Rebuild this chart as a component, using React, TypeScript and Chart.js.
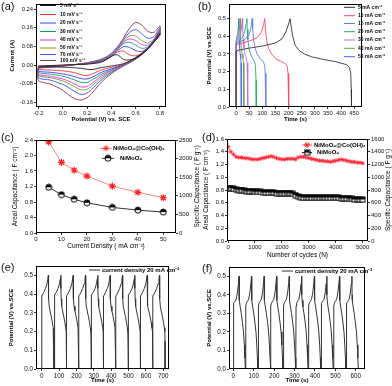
import { useEffect, useRef } from "react";
import { Chart, registerables } from "chart.js";

Chart.register(...registerables);

const SANS = "'Liberation Sans', Arial, Helvetica, sans-serif";

// ---------------- (a) cyclic voltammetry ----------------
const CV_POTENTIAL = [-0.2, -0.1, 0, 0.1, 0.2, 0.3, 0.35, 0.4, 0.45, 0.5, 0.55, 0.6, 0.65, 0.7, 0.75, 0.8,
  0.8, 0.75, 0.7, 0.65, 0.6, 0.55, 0.5, 0.45, 0.4, 0.35, 0.3, 0.25, 0.2, 0.15, 0.1, 0.05, 0, -0.1, -0.2];
const CV_LABELS = ["5 mV s⁻¹", "10 mV s⁻¹", "20 mV s⁻¹", "30 mV s⁻¹", "40 mV s⁻¹", "50 mV s⁻¹", "70 mV s⁻¹", "100 mV s⁻¹"];
const CV_5 = [-0.004, -0.002, 0.0, 0.002, 0.004, 0.01, 0.02, 0.038, 0.044, 0.024, 0.022, 0.03, 0.045, 0.068, 0.098, 0.135,
  0.128, 0.098, 0.072, 0.05, 0.032, 0.017, 0.006, 0.0, -0.004, -0.008, -0.013, -0.019, -0.018, -0.014, -0.012, -0.01, -0.009, -0.008, -0.007];
const CV_10 = [-0.006, -0.003, -0.001, 0.002, 0.005, 0.012, 0.021, 0.036, 0.056, 0.06, 0.044, 0.04, 0.05, 0.07, 0.1, 0.138,
  0.13, 0.098, 0.071, 0.049, 0.031, 0.016, 0.004, -0.004, -0.01, -0.016, -0.025, -0.037, -0.045, -0.041, -0.033, -0.028, -0.025, -0.021, -0.018];
const CV_20 = [-0.008, -0.004, -0.002, 0.002, 0.006, 0.014, 0.023, 0.037, 0.06, 0.079, 0.076, 0.062, 0.058, 0.074, 0.104, 0.142,
  0.133, 0.099, 0.071, 0.049, 0.03, 0.015, 0.002, -0.008, -0.016, -0.025, -0.036, -0.05, -0.06, -0.058, -0.05, -0.043, -0.038, -0.031, -0.026];
const CV_30 = [-0.009, -0.005, -0.002, 0.002, 0.007, 0.016, 0.025, 0.04, 0.065, 0.092, 0.098, 0.086, 0.072, 0.078, 0.106, 0.146,
  0.136, 0.1, 0.071, 0.048, 0.029, 0.014, 0.001, -0.01, -0.02, -0.032, -0.045, -0.062, -0.075, -0.074, -0.064, -0.055, -0.048, -0.039, -0.032];
const CV_40 = [-0.01, -0.006, -0.003, 0.002, 0.007, 0.017, 0.026, 0.042, 0.068, 0.098, 0.112, 0.105, 0.088, 0.085, 0.108, 0.15,
  0.139, 0.101, 0.071, 0.048, 0.028, 0.013, 0.0, -0.012, -0.024, -0.038, -0.054, -0.075, -0.092, -0.094, -0.082, -0.069, -0.06, -0.048, -0.04];
const CV_50 = [-0.011, -0.007, -0.003, 0.002, 0.008, 0.018, 0.028, 0.044, 0.07, 0.102, 0.125, 0.125, 0.105, 0.095, 0.112, 0.155,
  0.142, 0.102, 0.071, 0.047, 0.027, 0.012, -0.001, -0.014, -0.028, -0.044, -0.062, -0.085, -0.104, -0.106, -0.094, -0.08, -0.068, -0.054, -0.045];
const CV_70 = [-0.012, -0.008, -0.004, 0.002, 0.009, 0.02, 0.03, 0.047, 0.074, 0.108, 0.14, 0.152, 0.135, 0.115, 0.122, 0.16,
  0.146, 0.104, 0.071, 0.046, 0.026, 0.011, -0.002, -0.016, -0.032, -0.05, -0.072, -0.098, -0.12, -0.126, -0.114, -0.097, -0.083, -0.065, -0.054];
const CV_100 = [-0.013, -0.009, -0.005, 0.002, 0.01, 0.022, 0.033, 0.05, 0.078, 0.115, 0.158, 0.183, 0.172, 0.145, 0.14, 0.168,
  0.152, 0.106, 0.071, 0.045, 0.025, 0.01, -0.004, -0.019, -0.037, -0.058, -0.084, -0.115, -0.14, -0.15, -0.145, -0.128, -0.108, -0.082, -0.066];
const CV_X_TICKS = [-0.2, 0, 0.2, 0.4, 0.6, 0.8];
const CV_Y_TICKS = [-0.16, -0.08, 0, 0.08, 0.16, 0.24];

// ---------------- (b) charge/discharge at several current densities ----------------
const GCD_LABELS = ["5 mA cm⁻²", "10 mA cm⁻²", "15 mA cm⁻²", "20 mA cm⁻²", "30 mA cm⁻²", "40 mA cm⁻²", "50 mA cm⁻²"];
const GCD_5: number[][] = [[0, 0], [0, 0.316], [10, 0.322], [50, 0.333], [100, 0.345], [150, 0.362], [175, 0.385], [190, 0.425], [200, 0.47], [206, 0.5],
  [210, 0.455], [216, 0.4], [225, 0.35], [240, 0.32], [260, 0.3], [290, 0.283], [330, 0.27], [380, 0.256], [420, 0.24], [432, 0.225], [437, 0.19], [439, 0.1], [440, 0]];
const GCD_10: number[][] = [[0, 0], [0, 0.352], [20, 0.36], [50, 0.373], [80, 0.392], [95, 0.42], [104, 0.46], [109, 0.5], [112, 0.44], [117, 0.375],
  [124, 0.33], [135, 0.3], [150, 0.275], [170, 0.258], [188, 0.245], [195, 0.23], [198, 0.19], [200, 0.1], [201, 0]];
const GCD_15: number[][] = [[0, 0], [0, 0.358], [15, 0.368], [35, 0.385], [50, 0.41], [57, 0.45], [61, 0.5], [63, 0.44], [67, 0.38], [72, 0.335],
  [80, 0.3], [92, 0.275], [104, 0.255], [109, 0.235], [111, 0.19], [113, 0.1], [114, 0]];
const GCD_20: number[][] = [[0, 0], [0, 0.362], [12, 0.375], [25, 0.395], [33, 0.43], [38, 0.47], [41, 0.5], [42.5, 0.44], [45, 0.38], [49, 0.335],
  [55, 0.3], [63, 0.275], [71, 0.255], [74, 0.23], [76, 0.15], [77, 0]];
const GCD_30: number[][] = [[0, 0], [0, 0.37], [8, 0.38], [15, 0.4], [20, 0.44], [24, 0.5], [25, 0.44], [27, 0.38], [30, 0.335], [34, 0.3],
  [39, 0.275], [42, 0.25], [44, 0.19], [45, 0]];
const GCD_40: number[][] = [[0, 0], [0, 0.375], [5, 0.385], [10, 0.41], [13, 0.45], [15, 0.5], [16, 0.44], [18, 0.38], [20, 0.335], [23, 0.3],
  [26, 0.275], [28.5, 0.25], [29.5, 0.18], [30, 0]];
const GCD_50: number[][] = [[0, 0], [0, 0.38], [3, 0.39], [6, 0.41], [8.5, 0.45], [10, 0.5], [10.8, 0.44], [12, 0.38], [13.5, 0.335], [15.5, 0.3],
  [17.5, 0.275], [19, 0.25], [19.7, 0.18], [20, 0]];
const GCD_X_TICKS = [0, 50, 100, 150, 200, 250, 300, 350, 400, 450];
const GCD_Y_TICKS = [0, 0.1, 0.2, 0.3, 0.4, 0.5];

// ---------------- (c) rate capability ----------------
const CURRENT_DENSITY = [5, 10, 15, 20, 30, 40, 50];
const AREAL_COMPOSITE = [2.35, 1.82, 1.62, 1.47, 1.21, 1.05, 0.91];
const AREAL_NIMOO4 = [1.18, 0.99, 0.87, 0.78, 0.66, 0.59, 0.54];
const C_X_TICKS = [0, 10, 20, 30, 40, 50];
const C_Y_TICKS = [0, 0.4, 0.8, 1.2, 1.6, 2.0, 2.4];
const C_Y2_TICKS = [0, 500, 1000, 1500, 2000, 2500];

// ---------------- (d) cycling stability ----------------
const CYCLES = [0, 100, 200, 300, 400, 500, 600, 700, 800, 900, 1000, 1100, 1200, 1300, 1400, 1500, 1600, 1700, 1800, 1900, 2000,
  2100, 2200, 2300, 2400, 2500, 2600, 2700, 2800, 2900, 3000, 3100, 3200, 3300, 3400, 3500, 3600, 3700, 3800, 3900, 4000,
  4100, 4200, 4300, 4400, 4500, 4600, 4700, 4800, 4900, 5000];
const CYCLE_COMPOSITE = [1.48, 1.4, 1.36, 1.32, 1.31, 1.31, 1.3, 1.3, 1.29, 1.28, 1.28, 1.28, 1.29, 1.3, 1.31, 1.32, 1.33, 1.32, 1.3, 1.29, 1.28,
  1.28, 1.29, 1.29, 1.29, 1.28, 1.31, 1.32, 1.32, 1.31, 1.3, 1.29, 1.28, 1.27, 1.26, 1.26, 1.25, 1.25, 1.24, 1.25, 1.26,
  1.27, 1.28, 1.27, 1.26, 1.25, 1.24, 1.24, 1.23, 1.23, 1.22];
const CYCLE_NIMOO4 = [0.83, 0.83, 0.82, 0.81, 0.8, 0.8, 0.79, 0.78, 0.78, 0.78, 0.77, 0.77, 0.77, 0.76, 0.76, 0.76, 0.76, 0.76, 0.75, 0.75, 0.75,
  0.75, 0.75, 0.75, 0.74, 0.72, 0.7, 0.69, 0.68, 0.68, 0.68, 0.68, 0.68, 0.68, 0.68, 0.68, 0.68, 0.68, 0.68, 0.68, 0.68,
  0.68, 0.67, 0.67, 0.67, 0.66, 0.66, 0.65, 0.65, 0.65, 0.65];
const D_X_TICKS = [0, 1000, 2000, 3000, 4000, 5000];
const D_Y_TICKS = [0, 0.2, 0.4, 0.6, 0.8, 1.0, 1.2, 1.4, 1.6];
const D_Y2_TICKS = [0, 200, 400, 600, 800, 1000, 1200, 1400, 1600];

// ---------------- (e) / (f) repeated cycles at 20 mA cm-2 ----------------
const E_CYCLE_TIME = [0, 0.3, 4, 12, 22, 30, 35, 38, 38.7, 40, 43, 48, 55, 61, 66, 69, 70, 70.5];
const E_CYCLE_V = [0, 0.39, 0.395, 0.41, 0.43, 0.455, 0.48, 0.5, 0.43, 0.375, 0.335, 0.31, 0.28, 0.25, 0.22, 0.2, 0.15, 0];
const E_CYCLE_STARTS = [0, 72, 143, 214, 285, 356, 427, 498, 569, 640];
const E_X_TICKS = [0, 100, 200, 300, 400, 500, 600, 700];
const F_CYCLE_TIME = [0, 0.3, 3, 8, 14, 20, 25, 28, 28.7, 30, 34, 39, 45, 50, 54, 57, 59];
const F_CYCLE_V = [0, 0.34, 0.355, 0.365, 0.375, 0.41, 0.46, 0.5, 0.4, 0.37, 0.335, 0.3, 0.25, 0.2, 0.13, 0.06, 0];
const F_CYCLE_STARTS = [0, 61, 123, 184, 246, 307, 369, 430, 492, 553];
const F_X_TICKS = [0, 100, 200, 300, 400, 500, 600];
const EF_Y_TICKS = [0, 0.1, 0.2, 0.3, 0.4, 0.5];
const EF_LABEL = "current density 20 mA cm⁻²";

// ---------------- helpers ----------------
type Box = { x: number; y: number; w: number; h: number };
type Plot = { l: number; t: number; r: number; b: number };

function padFor(box: Box, p: Plot, yW: number, xH: number, rW = 0) {
  return {
    padding: {
      left: p.l - box.x - yW,
      top: p.t - box.y,
      right: box.x + box.w - p.r - rW,
      bottom: box.y + box.h - p.b - xH,
    },
  };
}

function scale(o: {
  position: string; min: number; max: number; ticks: number[]; fmt: (v: number) => string;
  title: string; size: number; tickFont: any; titleFont: any; showTitle?: boolean;
}) {
  const horiz = o.position === "bottom" || o.position === "top";
  return {
    type: "linear",
    position: o.position,
    display: true,
    min: o.min,
    max: o.max,
    afterBuildTicks: (s: any) => { s.ticks = o.ticks.map((v) => ({ value: v })); },
    afterFit: (s: any) => { if (horiz) s.height = o.size; else s.width = o.size; },
    grid: { display: true, drawOnChartArea: false, drawTicks: true, tickLength: 2, color: "#000", lineWidth: 0.8 },
    border: { display: false },
    ticks: { callback: (v: any) => o.fmt(Number(v)), font: o.tickFont, color: "#111", padding: 1, maxRotation: 0, autoSkip: false },
    title: { display: o.showTitle !== false, text: o.title, font: o.titleFont, color: "#000", padding: { top: 1, bottom: 1 } },
  };
}

const framePlugin = {
  id: "frame",
  afterDraw(chart: any) {
    const { ctx, chartArea: a } = chart;
    ctx.save();
    ctx.strokeStyle = "#000";
    ctx.lineWidth = 1;
    ctx.strokeRect(Math.round(a.left) + 0.5, Math.round(a.top) + 0.5, Math.round(a.right - a.left) - 1, Math.round(a.bottom - a.top) - 1);
    ctx.restore();
  },
};

// right-hand axis title, reading upward like the left one
function rightTitlePlugin(text: string, dx: number, font: string) {
  return {
    id: "rightTitle",
    afterDraw(chart: any) {
      const { ctx, chartArea: a } = chart;
      ctx.save();
      ctx.translate(a.right + dx, (a.top + a.bottom) / 2);
      ctx.rotate(-Math.PI / 2);
      ctx.font = font;
      ctx.fillStyle = "#000";
      ctx.textAlign = "center";
      ctx.textBaseline = "middle";
      ctx.fillText(text, 0, 0);
      ctx.restore();
    },
  };
}

function drawMarker(ctx: CanvasRenderingContext2D, kind: string, x: number, y: number, color: string) {
  ctx.save();
  if (kind === "star") {
    const r = 3;
    ctx.strokeStyle = color;
    ctx.lineWidth = 1;
    ctx.beginPath();
    for (let k = 0; k < 4; k++) {
      const ang = (k * Math.PI) / 4;
      ctx.moveTo(x - r * Math.cos(ang), y - r * Math.sin(ang));
      ctx.lineTo(x + r * Math.cos(ang), y + r * Math.sin(ang));
    }
    ctx.stroke();
  } else if (kind === "halfcircle") {
    ctx.drawImage(halfCircle(3), x - 4, y - 4);
  } else if (kind === "halfsquare") {
    ctx.drawImage(halfSquare(2.5), x - 3.5, y - 3.5);
  }
  ctx.restore();
}

let hcCache: HTMLCanvasElement | null = null;
function halfCircle(r: number) {
  if (hcCache) return hcCache;
  const c = document.createElement("canvas");
  c.width = 8; c.height = 8;
  const g = c.getContext("2d")!;
  g.fillStyle = "#fff"; g.beginPath(); g.arc(4, 4, r, 0, Math.PI * 2); g.fill();
  g.fillStyle = "#111"; g.beginPath(); g.arc(4, 4, r, Math.PI, 0); g.closePath(); g.fill();
  g.strokeStyle = "#000"; g.lineWidth = 1; g.beginPath(); g.arc(4, 4, r, 0, Math.PI * 2); g.stroke();
  hcCache = c;
  return c;
}
let hsCache: HTMLCanvasElement | null = null;
function halfSquare(r: number) {
  if (hsCache) return hsCache;
  const c = document.createElement("canvas");
  c.width = 7; c.height = 7;
  const g = c.getContext("2d")!;
  g.fillStyle = "#fff"; g.fillRect(3.5 - r, 3.5 - r, 2 * r, 2 * r);
  g.fillStyle = "#111"; g.fillRect(3.5 - r, 3.5 - r, 2 * r, r);
  g.strokeStyle = "#000"; g.lineWidth = 1; g.strokeRect(3.5 - r, 3.5 - r, 2 * r, 2 * r);
  hsCache = c;
  return c;
}

type LegItem = { y: number; x1: number; x2: number; tx: number; color: string; text: string; marker?: string; mx?: number; mcolor?: string };
function legendPlugin(items: LegItem[], font: string) {
  return {
    id: "customLegend",
    afterDraw(chart: any) {
      const ctx: CanvasRenderingContext2D = chart.ctx;
      ctx.save();
      ctx.font = font;
      ctx.textBaseline = "middle";
      for (const it of items) {
        ctx.strokeStyle = it.color;
        ctx.lineWidth = 1;
        ctx.beginPath();
        ctx.moveTo(it.x1, it.y);
        ctx.lineTo(it.x2, it.y);
        ctx.stroke();
        if (it.marker) drawMarker(ctx, it.marker, it.mx ?? (it.x1 + it.x2) / 2, it.y, it.mcolor ?? it.color);
        ctx.fillStyle = "#000";
        ctx.fillText(it.text, it.tx, it.y);
      }
      ctx.restore();
    },
  };
}

function baseOptions(box: Box, plot: Plot, yW: number, xH: number, rW: number, scales: any) {
  return {
    responsive: false,
    maintainAspectRatio: false,
    animation: false,
    devicePixelRatio: 1,
    events: [],
    layout: padFor(box, plot, yW, xH, rW),
    plugins: { legend: { display: false }, tooltip: { enabled: false }, title: { display: false } },
    scales,
  };
}

const f1 = (v: number) => v.toFixed(1);
const f2 = (v: number) => v.toFixed(2);
const f0 = (v: number) => String(Math.round(v));

// ---------------- panel configs ----------------
const BOX_A: Box = { x: 0, y: 0, w: 196, h: 130 };
const PLOT_A: Plot = { l: 36, t: 2, r: 166, b: 107 };
function buildA() {
  const series = [CV_5, CV_10, CV_20, CV_30, CV_40, CV_50, CV_70, CV_100];
  const colors = ["#222222", "#ff3333", "#3a3aff", "#119977", "#dd33dd", "#779933", "#3050dd", "#8a3355"];
  const tickFont = { family: SANS, size: 5.8 };
  const titleFont = { family: SANS, size: 6, weight: "bold" };
  const legY = [5.5, 14.5, 23, 31.5, 40, 48, 54.5, 60.5];
  return {
    type: "scatter",
    data: {
      datasets: series.map((ys, k) => {
        const pts = CV_POTENTIAL.map((x, i) => ({ x, y: ys[i] }));
        pts.push(pts[0]);
        return { label: CV_LABELS[k], data: pts, showLine: true, borderColor: colors[k], borderWidth: 0.9, pointRadius: 0, tension: 0.3, fill: false };
      }),
    },
    options: baseOptions(BOX_A, PLOT_A, 28, 17, 0, {
      x: scale({ position: "bottom", min: -0.22, max: 0.85, ticks: CV_X_TICKS, fmt: f1, title: "Potential (V) vs. SCE", size: 17, tickFont, titleFont }),
      y: scale({ position: "left", min: -0.18, max: 0.26, ticks: CV_Y_TICKS, fmt: f2, title: "Current (A)", size: 28, tickFont, titleFont }),
    }),
    plugins: [framePlugin, legendPlugin(CV_LABELS.map((t, k) => ({ y: legY[k], x1: 40, x2: 56, tx: 60, color: colors[k], text: t })), `bold 5px ${SANS}`)],
  };
}

const BOX_B: Box = { x: 196, y: 0, w: 196, h: 130 };
const PLOT_B: Plot = { l: 229, t: 2, r: 362, b: 107 };
function buildB() {
  const series = [GCD_5, GCD_10, GCD_15, GCD_20, GCD_30, GCD_40, GCD_50];
  const colors = ["#333333", "#ff4466", "#6677ff", "#22aa77", "#cc66ee", "#66aa33", "#4466ff"];
  const tickFont = { family: SANS, size: 5.8 };
  const titleFont = { family: SANS, size: 6, weight: "bold" };
  const legY = [7.3, 15.7, 23.5, 31.7, 40, 48.3, 56.7];
  return {
    type: "scatter",
    data: {
      datasets: series.map((s, k) => ({
        label: GCD_LABELS[k], data: s.map(([x, y]) => ({ x, y })), showLine: true, borderColor: colors[k], borderWidth: 0.9, pointRadius: 0, tension: 0,
      })),
    },
    options: baseOptions(BOX_B, PLOT_B, 24, 17, 0, {
      x: scale({ position: "bottom", min: -27, max: 480, ticks: GCD_X_TICKS, fmt: f0, title: "Time (s)", size: 17, tickFont, titleFont }),
      y: scale({ position: "left", min: 0, max: 0.58, ticks: GCD_Y_TICKS, fmt: f1, title: "Potential (V) vs.SCE", size: 24, tickFont, titleFont }),
    }),
    plugins: [framePlugin, legendPlugin(GCD_LABELS.map((t, k) => ({ y: legY[k], x1: 148, x2: 159, tx: 162, color: colors[k], text: t })), `bold 5px ${SANS}`)],
  };
}

const BOX_C: Box = { x: 0, y: 130, w: 204, h: 130 };
const PLOT_C: Plot = { l: 36, t: 140, r: 176, b: 233 };
function buildC() {
  const tickFont = { family: SANS, size: 6 };
  const titleFont = { family: SANS, size: 6.5 };
  return {
    type: "scatter",
    data: {
      datasets: [
        { label: "NiMoO₄@Co(OH)₂", data: CURRENT_DENSITY.map((x, i) => ({ x, y: AREAL_COMPOSITE[i] })), showLine: true, borderColor: "#ff8080", borderWidth: 1,
          pointStyle: "star", pointRadius: 3.5, pointBorderColor: "#ff2020", pointBorderWidth: 1.2, pointBackgroundColor: "#ff2020", yAxisID: "y" },
        { label: "NiMoO₄", data: CURRENT_DENSITY.map((x, i) => ({ x, y: AREAL_NIMOO4[i] })), showLine: true, borderColor: "#333", borderWidth: 1,
          pointStyle: halfCircle(3), pointRadius: 3.5, yAxisID: "y" },
      ],
    },
    options: baseOptions(BOX_C, PLOT_C, 26, 18, 26, {
      x: scale({ position: "bottom", min: 0, max: 55, ticks: C_X_TICKS, fmt: f0, title: "Current Density ( mA cm⁻²)", size: 18, tickFont, titleFont }),
      y: scale({ position: "left", min: 0, max: 2.4, ticks: C_Y_TICKS, fmt: f1, title: "Areal Capacitance ( F cm⁻²)", size: 26, tickFont, titleFont }),
      y2: scale({ position: "right", min: 0, max: 2500, ticks: C_Y2_TICKS, fmt: f0, title: "Specific Capacitance ( F g⁻¹)", size: 26, tickFont, titleFont, showTitle: false }),
    }),
    plugins: [framePlugin, rightTitlePlugin("Specific Capacitance ( F g⁻¹)", 21.5, `6.5px ${SANS}`), legendPlugin([
      { y: 18.3, x1: 100, x2: 112, tx: 113, color: "#ff8080", text: "NiMoO₄@Co(OH)₂", marker: "star", mx: 106, mcolor: "#ff2020" },
      { y: 28.3, x1: 102, x2: 114, tx: 120, color: "#333", text: "NiMoO₄", marker: "halfcircle", mx: 108 },
    ], `bold 6px ${SANS}`)],
  };
}

const BOX_D: Box = { x: 196, y: 130, w: 196, h: 130 };
const PLOT_D: Plot = { l: 227, t: 139, r: 368, b: 241 };
function buildD() {
  const tickFont = { family: SANS, size: 6 };
  const titleFont = { family: SANS, size: 6.5 };
  return {
    type: "scatter",
    data: {
      datasets: [
        { label: "NiMoO₄@Co(OH)₂", data: CYCLES.map((x, i) => ({ x, y: CYCLE_COMPOSITE[i] })), showLine: true, borderColor: "#ff5060", borderWidth: 0.8,
          pointStyle: "star", pointRadius: 2.2, pointBorderColor: "#ff2030", pointBorderWidth: 0.8, yAxisID: "y" },
        { label: "NiMoO₄", data: CYCLES.map((x, i) => ({ x, y: CYCLE_NIMOO4[i] })), showLine: true, borderColor: "#000", borderWidth: 0.8,
          pointStyle: halfSquare(2.5), pointRadius: 2.5, yAxisID: "y" },
      ],
    },
    options: baseOptions(BOX_D, PLOT_D, 26, 19, 24, {
      x: scale({ position: "bottom", min: -40, max: 5200, ticks: D_X_TICKS, fmt: f0, title: "Number of cycles (N)", size: 19, tickFont, titleFont }),
      y: scale({ position: "left", min: 0, max: 1.6, ticks: D_Y_TICKS, fmt: f1, title: "Areal Capacitance ( F cm⁻²)", size: 26, tickFont, titleFont }),
      y2: scale({ position: "right", min: 0, max: 1600, ticks: D_Y2_TICKS, fmt: f0, title: "Specific Capacitance ( F g⁻¹)", size: 24, tickFont, titleFont, showTitle: false }),
    }),
    plugins: [framePlugin, rightTitlePlugin("Specific Capacitance ( F g⁻¹)", 20, `6.5px ${SANS}`), legendPlugin([
      { y: 15, x1: 106, x2: 116, tx: 118, color: "#ff5060", text: "NiMoO₄@Co(OH)₂", marker: "star", mx: 111, mcolor: "#ff2030" },
      { y: 22.7, x1: 106, x2: 116, tx: 121, color: "#000", text: "NiMoO₄", marker: "halfsquare", mx: 111 },
    ], `bold 6px ${SANS}`)],
  };
}

function cycles(times: number[], volts: number[], starts: number[]) {
  const pts: { x: number; y: number }[] = [];
  for (const s of starts) times.forEach((t, j) => pts.push({ x: s + t, y: volts[j] }));
  return pts;
}

const BOX_E: Box = { x: 0, y: 260, w: 196, h: 126 };
const PLOT_E: Plot = { l: 36, t: 266, r: 169, b: 369 };
function buildE() {
  const tickFont = { family: SANS, size: 6.3 };
  const titleFont = { family: SANS, size: 6, weight: "bold" };
  return {
    type: "scatter",
    data: { datasets: [{ label: EF_LABEL, data: cycles(E_CYCLE_TIME, E_CYCLE_V, E_CYCLE_STARTS), showLine: true, borderColor: "#333", borderWidth: 1, pointRadius: 0, tension: 0 }] },
    options: baseOptions(BOX_E, PLOT_E, 29, 16, 0, {
      x: scale({ position: "bottom", min: -33, max: 733, ticks: E_X_TICKS, fmt: f0, title: "Time (s)", size: 16, tickFont, titleFont }),
      y: scale({ position: "left", min: 0, max: 0.55, ticks: EF_Y_TICKS, fmt: f1, title: "Potential (V) vs.SCE", size: 29, tickFont, titleFont }),
    }),
    plugins: [framePlugin, legendPlugin([{ y: 10, x1: 89, x2: 100, tx: 102, color: "#333", text: EF_LABEL }], `bold 6px ${SANS}`)],
  };
}

const BOX_F: Box = { x: 196, y: 260, w: 196, h: 126 };
const PLOT_F: Plot = { l: 229, t: 267, r: 365, b: 369 };
function buildF() {
  const tickFont = { family: SANS, size: 6.3 };
  const titleFont = { family: SANS, size: 6, weight: "bold" };
  return {
    type: "scatter",
    data: { datasets: [{ label: EF_LABEL, data: cycles(F_CYCLE_TIME, F_CYCLE_V, F_CYCLE_STARTS), showLine: true, borderColor: "#333", borderWidth: 1, pointRadius: 0, tension: 0 }] },
    options: baseOptions(BOX_F, PLOT_F, 24, 16, 0, {
      x: scale({ position: "bottom", min: -21, max: 645, ticks: F_X_TICKS, fmt: f0, title: "Time (s)", size: 16, tickFont, titleFont }),
      y: scale({ position: "left", min: 0, max: 0.55, ticks: EF_Y_TICKS, fmt: f1, title: "Potential (V) vs.SCE", size: 24, tickFont, titleFont }),
    }),
    plugins: [framePlugin, legendPlugin([{ y: 11, x1: 86, x2: 97, tx: 99, color: "#333", text: EF_LABEL }], `bold 6px ${SANS}`)],
  };
}

function Panel({ box, build }: { box: Box; build: () => any }) {
  const ref = useRef<HTMLCanvasElement>(null);
  useEffect(() => {
    const chart = new Chart(ref.current as HTMLCanvasElement, build());
    return () => chart.destroy();
  }, []);
  return (
    <canvas
      ref={ref}
      width={box.w}
      height={box.h}
      style={{ position: "absolute", left: box.x, top: box.y, width: box.w, height: box.h }}
    />
  );
}

const PANEL_TAGS: [string, number, number][] = [
  ["(a)", 1, 0], ["(b)", 198, 0], ["(c)", 1, 131], ["(d)", 202, 131], ["(e)", 1, 261], ["(f)", 202, 262],
];

export default function App() {
  return (
    <div style={{ position: "absolute", left: 0, top: 0, width: 392, height: 386, background: "#fff", overflow: "hidden" }}>
      <Panel box={BOX_A} build={buildA} />
      <Panel box={BOX_B} build={buildB} />
      <Panel box={BOX_C} build={buildC} />
      <Panel box={BOX_D} build={buildD} />
      <Panel box={BOX_E} build={buildE} />
      <Panel box={BOX_F} build={buildF} />
      {PANEL_TAGS.map(([t, x, y]) => (
        <div key={t} style={{ position: "absolute", left: x, top: y, font: `11px ${SANS}`, lineHeight: "13px", color: "#111" }}>{t}</div>
      ))}
    </div>
  );
}
